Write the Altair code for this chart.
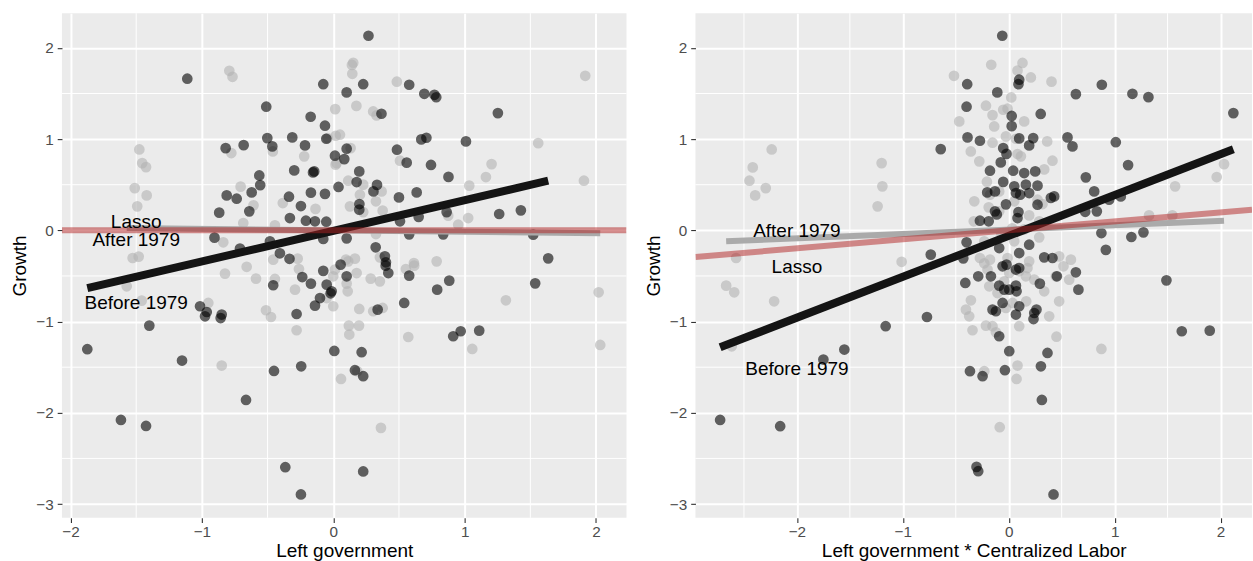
import altair as alt
import pandas as pd

# ---------------- data ----------------
# Panel 1: Growth vs Left government
P1_BEFORE_X = [-1.111, -0.076, 0.102, -0.510, -0.172, -0.063, -0.819, -0.682, -0.502, -0.464,
               -0.312, -0.215, -0.053, -0.145, -0.154, -0.297, -0.563, -0.556, -0.621, -0.811,
               -0.735, -0.639, -0.868, -0.337, -0.246, -0.170, -0.063, 0.040, -0.330, -0.208,
               -0.139, -0.053, -0.904, -0.710, -0.406, -0.333, 0.268, 0.228, 0.578, 0.693,
               0.770, 0.784, 0.367, 0.013, 0.084, 0.102, 0.670, 0.709, 1.010, 0.485,
               0.559, 0.744, 0.877, 0.198, 0.178, 0.333, 0.306, 0.199, 0.500, 0.635,
               0.863, 0.650, 0.508, 1.253, 0.198, 1.263, 1.428, 0.102, 0.578, 0.837,
               1.522, 0.323, 0.393, 0.401, 1.636, -0.482, -0.076, 0.399, 0.419, 0.056,
               0.102, -0.076, -0.236, -0.170, -0.457, -0.050, -0.012, -0.020, -0.101, -0.139,
               0.578, 0.791, 0.883, 0.540, 0.338, -0.279, -1.014, -0.963, -0.976, -0.849,
               -0.857, 0.913, 0.970, 1.111, 0.008, 0.216, -0.451, -0.244, 0.165, 0.228,
               -0.664, -1.400, -1.872, -1.151, -1.616, -1.425, -0.365, -0.246, 1.537, 0.228]
P1_BEFORE_Y = [1.662, 1.602, 1.512, 1.355, 1.245, 1.147, 0.901, 0.934, 1.011, 0.920,
               1.019, 0.931, 1.004, 0.646, 0.635, 0.657, 0.602, 0.496, 0.416, 0.383,
               0.347, 0.208, 0.194, 0.369, 0.266, 0.413, 0.400, 0.476, 0.135, 0.106,
               0.099, 0.095, -0.080, -0.200, -0.252, -0.312, 2.133, 1.602, 1.596, 1.497,
               1.486, 1.459, 1.278, 0.818, 0.781, 0.895, 0.997, 1.015, 0.975, 0.884,
               0.742, 0.717, 0.586, 0.646, 0.529, 0.498, 0.427, 0.288, 0.361, 0.416,
               0.200, 0.148, 0.099, 1.285, 0.227, 0.179, 0.219, -0.088, -0.044, -0.044,
               -0.047, -0.186, -0.285, -0.350, -0.307, -0.120, -0.095, -0.387, -0.468, -0.376,
               -0.504, -0.444, -0.512, -0.584, -0.602, -0.595, -0.668, -0.690, -0.742, -0.825,
               -0.496, -0.650, -0.551, -0.796, -0.869, -0.917, -0.832, -0.895, -0.942, -0.923,
               -0.961, -1.161, -1.106, -1.099, -1.322, -1.336, -1.541, -1.490, -1.533, -1.599,
               -1.859, -1.044, -1.303, -1.427, -2.078, -2.144, -2.596, -2.895, -0.581, -2.643]

P1_AFTER_X = [-0.791, -0.767, 0.015, 0.019, -0.776, -0.460, -0.221, -1.476, -1.454, -1.425,
              -1.511, -1.420, -1.492, -0.705, -0.607, -0.384, -0.135, -0.685, 0.026, -1.527,
              -1.481, -0.837, -0.457, -0.659, -0.271, 0.152, 0.142, 0.145, 0.484, 0.176,
              0.304, 0.330, -0.043, 0.132, 0.018, 0.508, 0.114, 0.228, 0.203, 0.368,
              0.325, 0.127, 0.228, 0.376, 0.875, 1.027, 1.035, 0.951, -0.444, 1.918,
              1.560, 1.205, 1.162, 1.908, 0.325, 0.097, 0.165, 0.614, 0.787, 0.051,
              -0.824, -0.588, -0.444, -0.291, -0.261, 0.000, 0.013, 0.114, 0.178, 0.102,
              0.110, -0.050, 0.000, 0.285, 0.355, 0.355, 0.553, 0.616, 0.198, 0.304,
              0.376, -0.512, -0.474, -0.951, -0.279, 0.119, 0.122, 0.196, 0.571, 1.058,
              -0.849, 0.059, 0.183, 0.363, -1.572, -1.458, 2.020, 1.314, 2.032]
P1_AFTER_Y = [1.749, 1.683, 1.329, 1.037, 0.847, 0.865, 0.811, 0.887, 0.737, 0.693,
              0.463, 0.383, 0.263, 0.479, 0.274, 0.299, 0.235, 0.080, 0.737, -0.303,
              -0.288, -0.131, -0.321, -0.400, -0.310, 1.837, 1.813, 1.716, 1.629, 1.364,
              1.303, 1.260, 1.011, 0.901, 0.720, 0.763, 0.544, 0.501, 0.391, 0.427,
              0.318, 0.263, 0.200, 0.216, 0.161, 0.135, 0.490, 0.062, 0.055, 1.694,
              0.956, 0.726, 0.584, 0.544, -0.041, -0.321, -0.310, -0.358, -0.340, 1.048,
              -0.474, -0.529, -0.533, -0.650, -0.424, -0.504, -0.430, -0.340, -0.468, -0.584,
              -0.668, -0.742, -0.832, -0.529, -0.559, -0.296, -0.424, -0.387, -0.862, -0.887,
              -0.851, -0.876, -0.950, -0.796, -1.095, -1.044, -1.142, -1.044, -1.169, -1.300,
              -1.482, -1.629, -1.544, -2.165, -0.613, -0.770, -0.679, -0.767, -1.256]

# Panel 2: Growth vs Left government * Centralized Labor
P2_BEFORE_X = [-0.061, -0.392, -0.108, -0.398, -0.389, -0.272, -0.642, -0.052, -0.021, -0.075,
               -0.177, -0.052, -0.203, -0.130, -0.026, -0.130, -0.113, -0.272, -0.189, -0.398,
               -0.736, -0.429, 0.028, 0.028, 0.099, 0.092, 0.634, 0.879, 0.302, 0.099,
               0.231, 0.193, 0.555, 0.602, 1.011, 0.042, 0.146, 0.250, 0.052, 0.162,
               0.272, 0.728, 0.807, 0.068, 0.193, 0.108, 0.398, 0.429, 0.272, 0.092,
               0.083, 0.832, 0.722, 1.168, 1.319, 2.121, 1.127, 0.948, 1.058, 0.875,
               1.158, 1.272, 0.917, 0.413, 0.335, -0.090, 0.193, 0.099, -0.058, -0.021,
               0.068, 0.099, 0.634, 0.658, 0.455, -0.410, -0.288, -0.168, -0.090, -0.042,
               0.005, 0.068, 0.074, 0.294, -0.058, -0.153, -0.121, 0.099, 0.068, 0.241,
               0.262, 0.234, -0.772, -0.090, 0.005, 0.366, 0.304, -0.366, -0.247, -0.036,
               0.313, -2.725, -2.158, -1.750, -1.552, -1.162, -0.304, -0.288, 1.489, 1.634,
               1.898, 0.423]
P2_BEFORE_Y = [2.133, 1.602, 1.512, 1.355, 1.019, 0.982, 0.890, 0.901, 0.838, 0.745,
               0.654, 0.531, 0.416, 0.427, 0.285, 0.208, 0.175, 0.106, 0.099, -0.131,
               -0.266, -0.307, 1.254, 1.142, 1.651, 1.602, 1.493, 1.596, 1.276, 1.008,
               1.011, 0.931, 1.019, 0.920, 0.966, 0.654, 0.628, 0.646, 0.482, 0.501,
               0.490, 0.581, 0.427, 0.409, 0.409, 0.391, 0.356, 0.372, 0.281, 0.200,
               0.135, 0.208, 0.203, 1.497, 1.460, 1.285, 0.715, 0.336, 0.372, -0.030,
               -0.073, -0.022, -0.214, -0.303, -0.296, -0.194, -0.157, -0.249, -0.394, -0.376,
               -0.430, -0.413, -0.460, -0.650, -0.504, -0.577, -0.504, -0.504, -0.606, -0.650,
               -0.650, -0.606, -0.668, -0.584, -0.796, -0.869, -0.887, -0.832, -0.923, -0.906,
               -0.869, -0.972, -0.950, -1.161, -1.325, -1.344, -1.490, -1.544, -1.599, -1.533,
               -1.859, -2.078, -2.147, -1.416, -1.307, -1.051, -2.593, -2.640, -0.548, -1.106,
               -1.099, -2.895]

P2_AFTER_X = [-0.517, -0.165, -0.215, -0.153, -0.052, -0.358, -0.153, -2.238, -2.417, -2.448,
              -2.394, -2.294, -1.200, -1.193, -1.238, -0.206, -0.189, -0.330, -2.574, -1.011,
              -0.272, -0.177, 0.130, 0.083, 0.209, 0.404, -0.011, -0.026, 0.068, 0.083,
              0.115, 0.413, -0.177, 0.272, 0.193, 0.288, 2.033, 1.964, 1.571, 1.325,
              1.545, 0.319, 0.476, 0.587, -0.231, -0.200, -0.011, 0.005, 0.099, 0.177,
              0.162, 0.241, 0.517, 0.445, 0.571, -0.357, -0.404, -0.373, -0.342, -0.215,
              -0.153, -0.121, -0.026, -0.106, 0.036, 0.451, 0.875, 0.083, 0.074, -0.231,
              -0.085, -2.668, -2.592, -2.215, -2.615, 0.024, -0.137, -0.071, 0.052, -0.231,
              0.146, 0.288, -0.325, 0.052, 0.335, -0.467, -0.090, 0.146, -0.184, 0.335,
              0.165, 0.476, -0.090, 0.193, 0.033, -0.278, 0.363, -0.042, 0.099, 0.382]
P2_AFTER_Y = [1.694, 1.815, 1.366, 1.263, 1.322, 0.865, 0.961, 0.887, 0.690, 0.544,
              0.383, 0.463, 0.737, 0.482, 0.263, 0.533, 0.252, 0.099, -0.303, -0.345,
              -0.303, -0.321, 1.835, 1.752, 1.676, 1.630, 1.333, 1.030, 1.004, 0.836,
              0.811, 0.763, 0.391, 0.336, 0.164, 0.099, 0.726, 0.584, 0.482, 0.164,
              0.164, 0.288, -0.285, -0.321, -0.361, -0.430, -0.303, -0.468, -0.449, -0.413,
              -0.504, -0.540, -0.394, -0.504, -0.540, -0.767, -0.869, -0.942, -1.095, -1.044,
              -1.051, -1.117, -0.851, -0.687, -0.796, -1.166, -1.300, -1.482, -1.629, -1.544,
              -2.158, -0.606, -0.679, -0.778, -1.271, 1.457, 1.139, -0.033, -0.120, -0.120,
              0.011, -0.077, 0.318, 0.318, 0.668, 1.194, 0.427, 1.194, -0.613, -0.668,
              -0.778, -0.778, 0.208, -0.340, 0.022, 0.756, 0.975, -0.559, -1.051, -0.942]

# fitted lines: (intercept, slope)
P1_BEFORE_FIT = (-0.005, 0.336)
P1_AFTER_FIT = (0.000, -0.016)
P1_LASSO_FIT = (0.000, 0.000)
P2_BEFORE_FIT = (-0.061, 0.448)
P2_AFTER_FIT = (0.008, 0.048)
P2_LASSO_FIT = (0.000, 0.0987)

# annotations
P1_LABELS = ["Lasso", "After 1979", "Before 1979"]
P1_LABEL_X = [-1.5, -1.5, -1.5]
P1_LABEL_Y = [0.09, -0.105, -0.80]
P2_LABELS = ["After 1979", "Lasso", "Before 1979"]
P2_LABEL_X = [-2.0, -2.0, -2.0]
P2_LABEL_Y = [-0.01, -0.405, -1.515]

P1_XDOM = [-2.065, 2.232]
P2_XDOM = [-2.958, 2.297]
YDOM = [-3.151, 2.380]
X_TICKS = [-2, -1, 0, 1, 2]
Y_TICKS = [-3, -2, -1, 0, 1, 2]

FONT = "Liberation Sans"
GROUPS = ["Before 1979", "After 1979"]
POINT_COLORS = ["#000000", "#B3B3B3"]


def fit_points(xs, fit):
    a, b = fit
    x0, x1 = min(xs), max(xs)
    return pd.DataFrame({"x": [x0, x1], "y": [a + b * x0, a + b * x1]})


def panel(bx, by, ax, ay, bfit, afit, lfit, labels, lx, ly, xdom, xtitle, width):
    xenc = alt.X("x:Q", scale=alt.Scale(domain=xdom, nice=False, zero=False),
                 axis=alt.Axis(values=X_TICKS, title=xtitle, labelFlush=False))
    yenc = alt.Y("y:Q", scale=alt.Scale(domain=YDOM, nice=False, zero=False),
                 axis=alt.Axis(values=Y_TICKS, title="Growth", labelFlush=False))

    lo = int(xdom[0]) - 1
    hi = int(xdom[1]) + 1
    xminor = [k + 0.5 for k in range(lo, hi) if xdom[0] < k + 0.5 < xdom[1]]
    yminor = [k + 0.5 for k in range(-4, 3) if YDOM[0] < k + 0.5 < YDOM[1]]
    vgrid = alt.Chart(pd.DataFrame({"x": xminor})).mark_rule(
        color="white", strokeWidth=1).encode(x=xenc)
    hgrid = alt.Chart(pd.DataFrame({"y": yminor})).mark_rule(
        color="white", strokeWidth=1).encode(y=yenc)

    pts = pd.concat([
        pd.DataFrame({"x": ax, "y": ay, "period": "After 1979"}),
        pd.DataFrame({"x": bx, "y": by, "period": "Before 1979"}),
    ], ignore_index=True)
    points = alt.Chart(pts).mark_circle(size=115, opacity=0.6, clip=True).encode(
        x=xenc, y=yenc,
        color=alt.Color("period:N", scale=alt.Scale(domain=GROUPS, range=POINT_COLORS),
                        legend=None),
    )

    after_line = alt.Chart(fit_points(ax, afit)).mark_line(
        color="#AAAAAA", strokeWidth=6, clip=True).encode(x=xenc, y=yenc)
    before_line = alt.Chart(fit_points(bx, bfit)).mark_line(
        color="#141414", strokeWidth=8, clip=True).encode(x=xenc, y=yenc)
    lasso_line = alt.Chart(fit_points(xdom, lfit)).mark_line(
        color="#B22222", opacity=0.5, strokeWidth=6, clip=True).encode(x=xenc, y=yenc)

    text = alt.Chart(pd.DataFrame({"x": lx, "y": ly, "label": labels})).mark_text(
        font=FONT, fontSize=19, color="black", align="center", baseline="middle"
    ).encode(x=xenc, y=yenc, text="label:N")

    return alt.layer(vgrid, hgrid, points, after_line, before_line, lasso_line, text).properties(
        width=width, height=505)


left = panel(P1_BEFORE_X, P1_BEFORE_Y, P1_AFTER_X, P1_AFTER_Y,
             P1_BEFORE_FIT, P1_AFTER_FIT, P1_LASSO_FIT,
             P1_LABELS, P1_LABEL_X, P1_LABEL_Y, P1_XDOM, "Left government", 565)
right = panel(P2_BEFORE_X, P2_BEFORE_Y, P2_AFTER_X, P2_AFTER_Y,
              P2_BEFORE_FIT, P2_AFTER_FIT, P2_LASSO_FIT,
              P2_LABELS, P2_LABEL_X, P2_LABEL_Y, P2_XDOM,
              "Left government * Centralized Labor", 557)

chart = alt.hconcat(left, right, spacing=69, bounds="flush").resolve_scale(
    x="independent", y="independent"
).properties(
    padding={"left": 10, "top": 12, "right": 0, "bottom": 0}
).configure_view(
    fill="#EBEBEB", stroke=None
).configure_axis(
    domain=False, tickColor="#333333", tickWidth=1.1, tickSize=4.75,
    labelColor="#4D4D4D", labelFont=FONT, labelFontSize=15.3,
    titleFont=FONT, titleFontSize=19, titleFontWeight="normal", titleColor="#000000",
    grid=True, gridColor="#FFFFFF", gridWidth=2,
).configure_axisX(
    labelPadding=2, titlePadding=2
).configure_axisY(
    labelPadding=4, titlePadding=6
)

chart.save("out.html", embed_options={"renderer": "svg", "actions": False})
